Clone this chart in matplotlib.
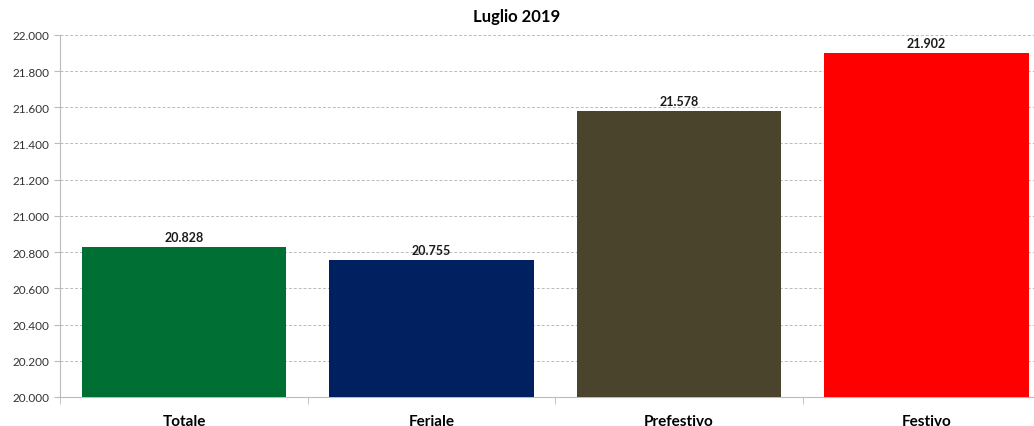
import matplotlib
matplotlib.use("Agg")
import matplotlib.pyplot as plt
from matplotlib.ticker import FuncFormatter, MultipleLocator, FixedLocator

categories = ["Totale", "Feriale", "Prefestivo", "Festivo"]
values = [20828, 20755, 21578, 21902]
colors = ["#006F33", "#002060", "#4A442C", "#FF0000"]
title = "Luglio 2019"

plt.rcParams["font.family"] = ["Lato", "DejaVu Sans"]

def it_fmt(v, pos=None):
    return f"{int(round(v)):,}".replace(",", ".")

fig = plt.figure(figsize=(10.34, 4.27), dpi=100)
# the original chart is cut off on the right, so the axes run past the figure edge
ax = fig.add_axes([0.0583, 0.068, 0.9575, 0.848])
x = list(range(len(categories)))
bars = ax.bar(x, values, width=0.825, color=colors, zorder=3)
for b, v in zip(bars, values):
    ax.text(b.get_x() + b.get_width() / 2, v + 22, it_fmt(v), ha="center", va="bottom",
            fontsize=9, fontweight="bold", color="#1a1a1a")

ax.set_xlim(-0.5, len(categories) - 0.5)
ax.set_ylim(20000, 22000)
ax.yaxis.set_major_locator(MultipleLocator(200))
ax.yaxis.set_major_formatter(FuncFormatter(it_fmt))
ax.grid(axis="y", linestyle=(0, (3, 2)), color="#BBBBBB", linewidth=0.7, zorder=0)

ax.set_xticks(x)
ax.set_xticklabels(categories, fontsize=11, fontweight="bold")
ax.xaxis.set_minor_locator(FixedLocator([i - 0.5 for i in range(len(categories) + 1)]))
ax.tick_params(axis="x", which="major", length=0, pad=12)
ax.tick_params(axis="x", which="minor", length=5, color="#BBBBBB", direction="out")
ax.tick_params(axis="y", length=4, color="#BBBBBB", labelsize=8.5, labelcolor="#333333")

for s in ("top", "right"):
    ax.spines[s].set_visible(False)
for s in ("left", "bottom"):
    ax.spines[s].set_color("#BBBBBB")

fig.text(0.5, 0.96, title, ha="center", va="center", fontsize=12, fontweight="bold")
fig.savefig("out.png", dpi=100)
